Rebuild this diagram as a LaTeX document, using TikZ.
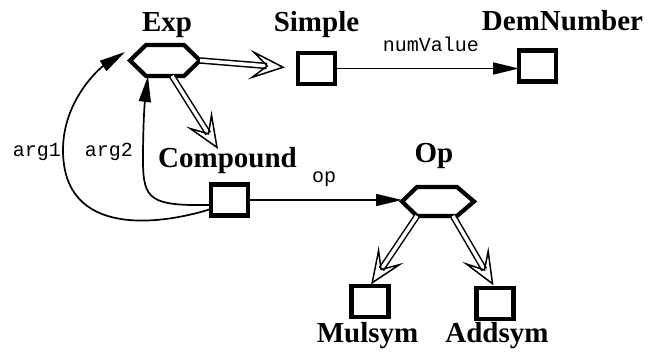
\documentclass[tikz,border=0pt]{standalone}
\usepackage{fontspec}
\setmainfont{Liberation Serif}
\newfontfamily\monofont{Liberation Mono}
\usetikzlibrary{arrows.meta,calc}
\begin{document}
\begin{tikzpicture}[x=1pt,y=-1pt,
  box/.style={draw, line width=4.2pt, minimum width=37pt, minimum height=31pt, inner sep=0pt, outer sep=0pt},
  hexn/.style={inner sep=0pt, outer sep=0pt, minimum width=#1},
  hexline/.style={line width=4.2pt, line join=miter},
  lbl/.style={font=\fontsize{29}{30}\selectfont\bfseries, inner sep=0pt, anchor=base},
  mlbl/.style={font=\monofont\fontsize{20}{22}\selectfont, inner sep=0pt, anchor=base},
  conn/.style={line width=1.7pt, -{Triangle[length=26pt,width=12pt]}},
  gen/.style={line width=1.5pt, double, double distance=3.5pt, -{Stealth[open,length=36pt,width=30pt,inset=17pt]}},
]
\useasboundingbox (0,0) rectangle (648,352);

% hexagons
\node[hexn=70pt, minimum height=31pt] (exp) at (165,60.5) {};
\draw[hexline] (exp.west) -- ($(exp.north west)+(16,0)$) -- ($(exp.north east)+(-16,0)$) -- (exp.east) -- ($(exp.south east)+(-16,0)$) -- ($(exp.south west)+(16,0)$) -- cycle;
\node[hexn=72pt, minimum height=29pt] (op) at (438,201.5) {};
\draw[hexline] (op.west) -- ($(op.north west)+(15,0)$) -- ($(op.north east)+(-17,0)$) -- (op.east) -- ($(op.south east)+(-17,0)$) -- ($(op.south west)+(15,0)$) -- cycle;

% boxes
\node[box] (simple) at (316.5,68.5) {};
\node[box] (dem) at (537.5,66) {};
\node[box] (comp) at (229.5,200) {};
\node[box] (mul) at (370,301.5) {};
\node[box] (add) at (495,303.5) {};

% labels
\node[lbl] (explbl) at (167,32) {Exp};
\node[lbl] (simplelbl) at (316.5,32) {Simple};
\node[lbl] (demlbl) at (562.5,31) {DemNumber};
\node[lbl] (complbl) at (227.5,168) {Compound};
\node[lbl] (oplbl) at (434,163) {Op};
\node[lbl] (mullbl) at (367.5,343) {Mulsym};
\node[lbl] (addlbl) at (497,343) {Addsym};

\node[mlbl] (numv) at (431,52) {numValue};
\node[mlbl] (arga) at (37,157) {arg1};
\node[mlbl] (argb) at (109,157) {arg2};
\node[mlbl] (opl) at (324,183) {op};

% connectors
\draw[conn] (simple.east) -- (simple.east -| dem.west);
\draw[conn] (comp.east) -- (comp.east -| op.west);
\draw[conn] ($(comp.west)+(0,9)$) .. controls (160,225) and (63,238) .. (63,150) .. controls (63,100) and (100,68) .. ($(exp.west)+(-5,-8.5)$);
\draw[conn] ($(comp.west)+(0,5)$) .. controls (150,206) and (143,200) .. (143,160) .. controls (143,120) and (145,100) .. ($(exp.south)+(-17,0)$);

% generalisation arrows
\coordinate (ctip) at (218,149);
\draw[gen, shorten >=13pt] (exp.east) -- (simple.west);
\draw[gen] ($(exp.south)+(7,0)$) -- (ctip);
\draw[gen, shorten >=2pt] ($(op.south west)+(15,0)$) -- (mul.north);
\draw[gen, shorten >=3pt] ($(op.south east)+(-21,0)$) -- (add.north);
\end{tikzpicture}
\end{document}
